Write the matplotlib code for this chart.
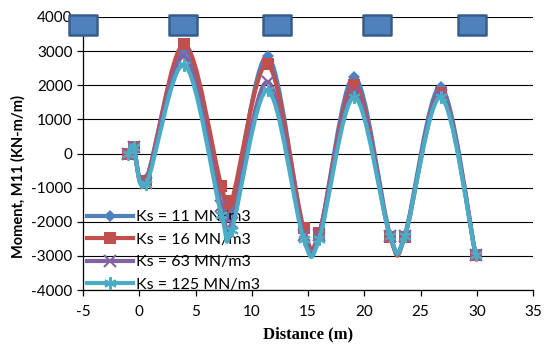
import matplotlib
matplotlib.use("Agg")
import matplotlib.pyplot as plt
import numpy as np
from matplotlib.path import Path
from matplotlib.patches import PathPatch
from matplotlib.lines import Line2D
from matplotlib.ticker import FuncFormatter

# ---- data ----
distance = [-1.0, -0.5, 0.6, 4.0, 7.3, 8.2, 11.4, 14.6, 16.0, 19.1, 22.3, 23.6, 26.8, 29.9]
ks11 = [0, 200, -750, 3050, -1050, -1650, 2850, -2250, -2350, 2250, -2400, -2400, 1950, -2970]
ks16 = [0, 200, -800, 3200, -950, -1400, 2620, -2170, -2320, 2020, -2450, -2450, 1780, -2970]
ks63 = [0, 200, -850, 2850, -1550, -2050, 2100, -2380, -2380, 1800, -2420, -2420, 1720, -2970]
ks125 = [0, 200, -900, 2600, -1800, -2250, 1850, -2500, -2500, 1650, -2430, -2430, 1650, -2970]
labels = ["Ks = 11 MN/m3", "Ks = 16 MN/m3", "Ks = 63 MN/m3", "Ks = 125 MN/m3"]
support_x = [-5.0, 3.9, 12.2, 21.1, 29.6]
support_y = [3770, 3770, 3770, 3770, 3770]
x_ticks = [-5, 0, 5, 10, 15, 20, 25, 30, 35]
y_ticks = [-4000, -3000, -2000, -1000, 0, 1000, 2000, 3000, 4000]

colors = ["#4F81BD", "#C0504D", "#8064A2", "#4BACC6"]
markers = ["D", "s", "x", (6, 2, 0)]
msizes = [6, 9, 8, 9]

fig = plt.figure(figsize=(5.44, 3.45), dpi=100)
ax = fig.add_axes([83/544, 1-290/345, 450/544, 273/345])


def smooth_path(xs, ys):
    """Excel-style smoothed line: cubic Bezier through the data points."""
    P = np.column_stack([xs, ys]).astype(float)
    n = len(P)
    verts = [P[0]]
    codes = [Path.MOVETO]
    for i in range(n - 1):
        p0 = P[i - 1] if i > 0 else P[i]
        p1 = P[i]
        p2 = P[i + 1]
        p3 = P[i + 2] if i + 2 < n else P[i + 1]
        c1 = p1 + (p2 - p0) / 6.0
        c2 = p2 - (p3 - p1) / 6.0
        verts += [c1, c2, p2]
        codes += [Path.CURVE4] * 3
    return Path(verts, codes)


series = [ks11, ks16, ks63, ks125]
handles = []
for k, (ys, c, m, ms) in enumerate(zip(series, colors, markers, msizes)):
    mew = 1.5 if m in ("x", (6, 2, 0)) else 0
    patch = PathPatch(smooth_path(distance, ys), facecolor="none", edgecolor=c,
                      lw=3.0, zorder=3 + k, capstyle="round", joinstyle="round")
    ax.add_patch(patch)
    ax.plot(distance, ys, linestyle="none", marker=m, markersize=ms, color=c,
            markeredgecolor=c, markeredgewidth=mew, zorder=3 + k + 0.5)
    handles.append(Line2D([], [], color=c, lw=3.0, marker=m, markersize=ms,
                          markeredgecolor=c, markeredgewidth=mew))

# supports (large rectangles along the top)
rect = Path([(-1.45, -1), (1.45, -1), (1.45, 1), (-1.45, 1), (-1.45, -1)],
            [Path.MOVETO, Path.LINETO, Path.LINETO, Path.LINETO, Path.CLOSEPOLY])
ax.plot(support_x, support_y, linestyle="none", marker=rect, markersize=20.5,
        markerfacecolor="#4F81BD", markeredgecolor="#385D8A", markeredgewidth=1.8,
        zorder=10, clip_on=False)

ax.set_xlim(-5, 35)
ax.set_ylim(-4000, 4000)
ax.set_xticks(x_ticks)
ax.set_yticks(y_ticks)
fmt = FuncFormatter(lambda v, p: f"{int(round(v))}")
ax.yaxis.set_major_formatter(fmt)
ax.xaxis.set_major_formatter(fmt)
ax.grid(axis="y", color="black", lw=0.8, zorder=0)
ax.set_axisbelow(True)
for s in ["top", "right"]:
    ax.spines[s].set_visible(False)
for s in ["left", "bottom"]:
    ax.spines[s].set_color("black")
    ax.spines[s].set_linewidth(0.9)
ax.tick_params(axis="both", direction="out", length=4.5, width=0.9, color="black",
               labelsize=11, pad=3)
for lab in ax.get_xticklabels() + ax.get_yticklabels():
    lab.set_fontfamily("Lato")
ax.tick_params(axis="x", pad=6)

fig.text(18/544, 1-177/345, "Moment, M11 (KN-m/m)", rotation=90, ha="center",
         va="center", fontsize=10.5, fontweight="bold", family="Lato")
fig.text(308/544, 1-334/345, "Distance (m)", ha="center", va="center",
         fontsize=12, fontweight="bold", family="Liberation Serif")

leg = ax.legend(handles, labels, loc="lower left", bbox_to_anchor=(-0.005, -0.03),
                frameon=False, prop={"family": "Lato", "size": 11.5},
                handlelength=2.9, handletextpad=0.15, labelspacing=0.52,
                borderaxespad=0)

fig.savefig("out.png", dpi=100)
